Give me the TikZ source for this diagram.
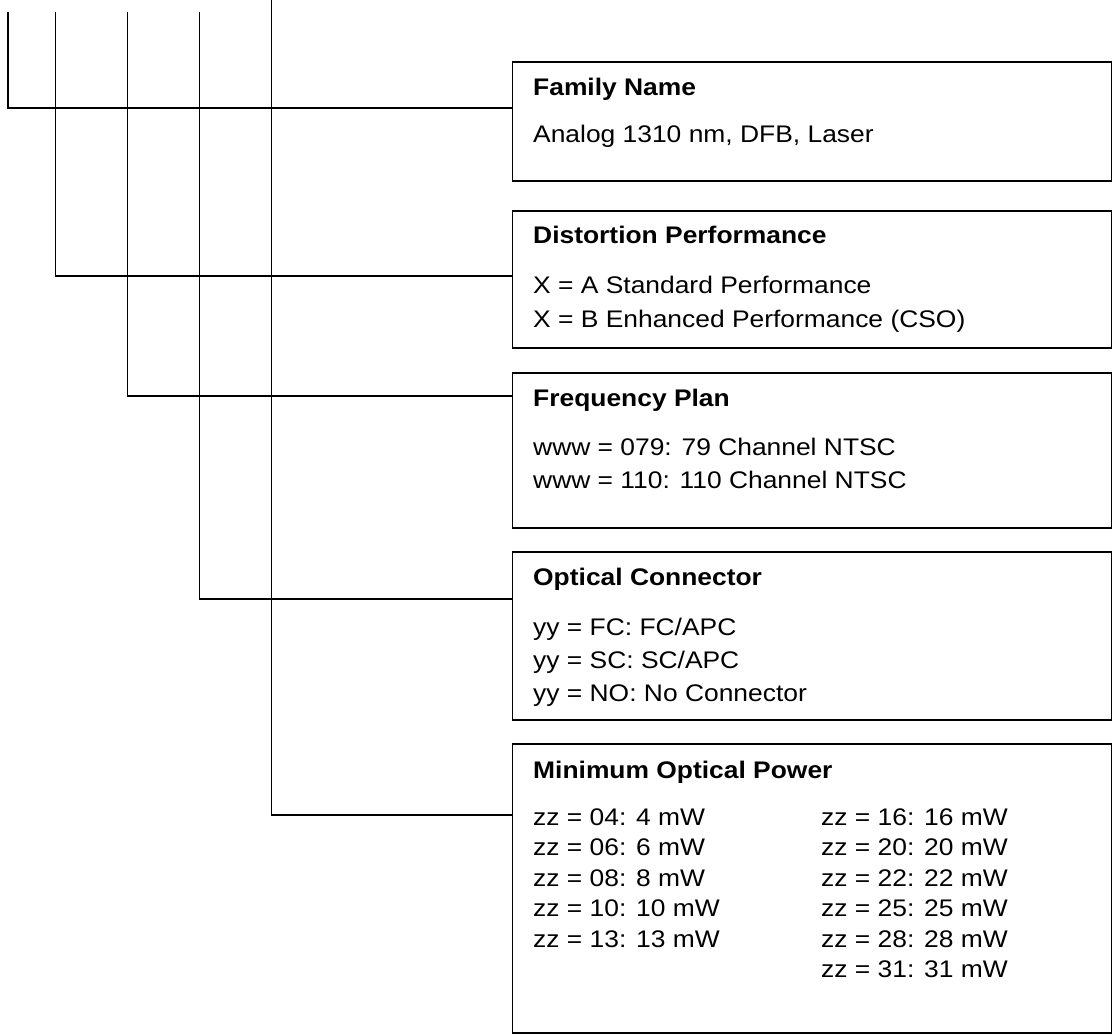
\documentclass[tikz,border=0pt]{standalone}
\usepackage{fontspec}
\setmainfont{Liberation Sans}[FakeStretch=1.1]
\usepackage{tikz}
\usetikzlibrary{positioning,calc}

\tikzset{
	infobox/.style={draw, line width=1.6pt, anchor=north west, inner sep=0pt, minimum width=599pt},
	head/.style={anchor=base west, inner sep=0pt, font=\fontsize{24}{29}\selectfont\bfseries},
	entry/.style={anchor=base west, inner sep=0pt, font=\fontsize{24}{29}\selectfont},
	wire/.style={line width=1.6pt},
}

\begin{document}
\begin{tikzpicture}[x=1pt,y=-1pt]
		
		\useasboundingbox (0,0) rectangle (1112,1034);
		
		\coordinate (ta) at (8,12);
		\coordinate (tb) at (55.5,12);
		\coordinate (tc) at (127.5,12);
		\coordinate (td) at (199.5,12);
		\coordinate (te) at (271.5,0);
		
		\node[infobox, minimum height=119pt] (fam) at (511.5,61) {};
		\node[infobox, minimum height=137pt] (dist) at (511.5,210) {};
		\node[infobox, minimum height=155pt] (freq) at (511.5,372) {};
		\node[infobox, minimum height=168pt] (conn) at (511.5,551) {};
		\node[infobox, minimum height=289pt] (pow) at (511.5,743) {};
		
		\draw[wire] (ta) |- ([yshift=-47pt]fam.north west);
		\draw[wire] (tb) |- ([yshift=-66pt]dist.north west);
		\draw[wire] (tc) |- ([yshift=-24pt]freq.north west);
		\draw[wire] (td) |- ([yshift=-48pt]conn.north west);
		\draw[wire] (te) |- ([yshift=-72pt]pow.north west);
		
		% family
		\node[head] (famT) at (533,95) {Family Name};
		\node[entry] (famA) at (533,142) {Analog 1310 nm, DFB, Laser};
		
		% distortion
		\node[head] (distT) at (533,243) {Distortion Performance};
		\node[entry] (distA) at (533,293) {X = A Standard Performance};
		\node[entry] (distB) at (533,327) {X = B Enhanced Performance (CSO)};
		
		% frequency
		\node[head] (freqT) at (533,406.5) {Frequency Plan};
		\node[entry] (freqA) at (533,455) {www = 079: 79 Channel NTSC};
		\node[entry] (freqB) at (533,488) {www = 110: 110 Channel NTSC};
		
		% connector
		\node[head] (connT) at (533,585.5) {Optical Connector};
		\node[entry] (connA) at (533,635) {yy = FC: FC/APC};
		\node[entry] (connB) at (533,668) {yy = SC: SC/APC};
		\node[entry] (connC) at (533,701) {yy = NO: No Connector};
		
		% power
		\node[head] (powT) at (533,778) {Minimum Optical Power};
		\node[entry] (powA) at (533,825) {zz = 04: 4 mW};
		\node[entry] (powB) at (533,855.5) {zz = 06: 6 mW};
		\node[entry] (powC) at (533,886) {zz = 08: 8 mW};
		\node[entry] (powD) at (533,916.5) {zz = 10: 10 mW};
		\node[entry] (powE) at (533,947) {zz = 13: 13 mW};
		\node[entry] (powF) at (821,825) {zz = 16: 16 mW};
		\node[entry] (powG) at (821,855.5) {zz = 20: 20 mW};
		\node[entry] (powH) at (821,886) {zz = 22: 22 mW};
		\node[entry] (powI) at (821,916.5) {zz = 25: 25 mW};
		\node[entry] (powJ) at (821,947) {zz = 28: 28 mW};
		\node[entry] (powK) at (821,977.5) {zz = 31: 31 mW};
		
	\end{tikzpicture}
\end{document}
